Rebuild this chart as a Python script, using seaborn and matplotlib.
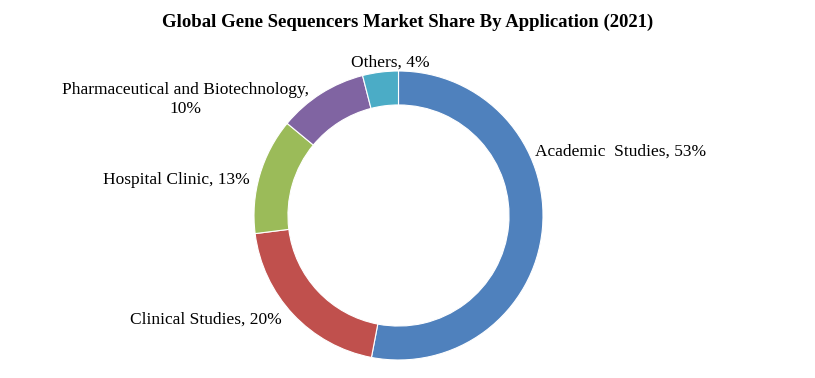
import matplotlib.pyplot as plt
import seaborn as sns

sns.set_theme(style='white')
plt.rcParams['font.family'] = ['Liberation Serif', 'DejaVu Serif']
plt.rcParams['text.color'] = 'black'

applications = ["Academic Studies", "Clinical Studies", "Hospital Clinic",
                "Pharmaceutical and Biotechnology", "Others"]
shares = [53, 20, 13, 10, 4]
colors = ["#4F81BD", "#C0504D", "#9BBB59", "#8064A2", "#4BACC6"]

fig = plt.figure(figsize=(8.15, 3.78), dpi=100)
fig.set_facecolor('white')

# donut centred at (398.5, 215.5) px from top-left, radius 144.5 px
W, H = 815, 378
r_px = 144.5
cx, cy = 398.5, H - 215.5
ax = fig.add_axes([(cx - r_px) / W, (cy - r_px) / H, 2 * r_px / W, 2 * r_px / H])

ax.pie(shares, colors=colors, startangle=90, counterclock=False, radius=1,
       wedgeprops=dict(width=0.235, edgecolor='white', linewidth=0.8))
ax.set_xlim(-1, 1)
ax.set_ylim(-1, 1)
ax.set_aspect('equal')
ax.axis('off')

fs = 12.5
labels = [f"{a}, {s}%" for a, s in zip(applications, shares)]
ax.text(0.945, 0.44, "Academic  Studies, " + f"{shares[0]}%", ha='left', va='center', fontsize=fs)
ax.text(-0.806, -0.723, labels[1], ha='right', va='center', fontsize=fs)
ax.text(-1.028, 0.246, labels[2], ha='right', va='center', fontsize=fs)
ax.text(-1.477, 0.805, labels[3].replace(", ", ",\n"),
        ha='center', va='center', fontsize=fs, linespacing=1.25)
ax.text(-0.06, 1.06, labels[4], ha='center', va='center', fontsize=fs)

fig.text(0.5, 1 - 22 / H, "Global Gene Sequencers Market Share By Application (2021)",
         ha='center', va='center', fontsize=13.5, fontweight='bold')

fig.savefig("out.png", dpi=100)
